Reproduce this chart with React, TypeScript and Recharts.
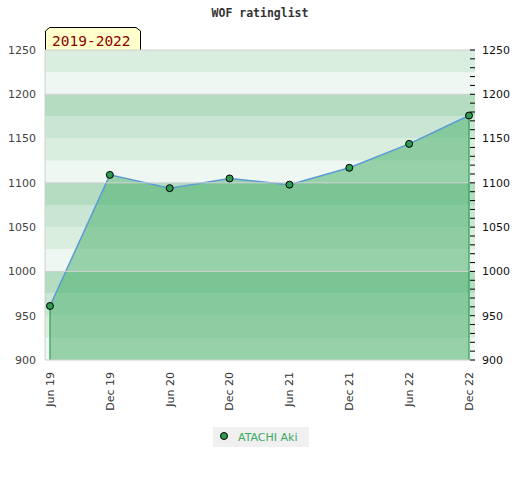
import {
  Area,
  ComposedChart,
  Customized,
  ReferenceArea,
  ReferenceLine,
  XAxis,
  YAxis,
} from "recharts";

const periods = ["Jun 19", "Dec 19", "Jun 20", "Dec 20", "Jun 21", "Dec 21", "Jun 22", "Dec 22"];
// months counted from Jun 2019
const monthIndex = [0, 6, 12, 18, 24, 30, 36, 42];
const ratings = [961, 1109, 1094, 1105, 1098, 1117, 1144, 1176];
const leftTicks = [900, 950, 1000, 1050, 1100, 1150, 1200, 1250];
const bandEdges = [900, 925, 950, 975, 1000, 1025, 1050, 1075, 1100, 1125, 1150, 1175, 1200, 1225, 1250];
const gridLines = [1000, 1100, 1200, 1250];
const minorTicks = Array.from({ length: 36 }, (_, i) => 900 + i * 10);

const playerName = "ATACHI Aki";
const rangeLabel = "2019-2022";
const chartTitle = "WOF ratinglist";

// colour cycle of the 25-point background bands, from the bottom up
const BAND_COLORS = ["#eef7f1", "#daeee0", "#c8e6d3", "#b3dcc1"];

const chartData = periods.map((label, i) => ({ m: monthIndex[i], label, rating: ratings[i] }));

const monthLabel = (m: number) => periods[monthIndex.indexOf(m)] ?? "";

const DateTick = (props: any) => {
  const { x, y, payload } = props;
  return (
    <text
      x={x}
      y={y}
      dy="0.35em"
      transform={`rotate(-90, ${x}, ${y})`}
      textAnchor="end"
      fontSize={11}
      fill="#333"
      fontFamily="DejaVu Sans"
    >
      {monthLabel(payload.value)}
    </text>
  );
};

const RightTick = (props: any) => {
  const { x, y, payload } = props;
  return (
    <g>
      <line x1={x - 5} x2={x} y1={y} y2={y} stroke="#000" strokeWidth={1} />
      {payload.value % 50 === 0 && (
        <text x={x + 7} y={y} dy="0.35em" fontSize={11} fill="#111" fontFamily="DejaVu Sans">
          {payload.value}
        </text>
      )}
    </g>
  );
};

const Decorations = () => (
  <g>
    <text
      x={260}
      y={17}
      textAnchor="middle"
      fontSize={11.5}
      fontWeight="bold"
      fontFamily="DejaVu Sans Mono"
      fill="#333"
    >
      {chartTitle}
    </text>
    <polygon
      points="45.5,50.5 45.5,31 49.5,27.5 136,27.5 140.5,31 140.5,50.5"
      fill="#ffffcc"
      stroke="#000"
      strokeWidth={1}
    />
    <text x={52} y={46} fontSize={14.5} fontFamily="DejaVu Sans Mono" fill="#8b0000">
      {rangeLabel}
    </text>
  </g>
);

export default function App() {
  const first = chartData[0];
  const last = chartData[chartData.length - 1];
  return (
    <div style={{ position: "relative", width: 520, height: 480 }}>
      <style>{`body{margin:0}`}</style>
      <ComposedChart
        width={520}
        height={480}
        data={chartData}
        margin={{ top: 50, right: 0, bottom: 0, left: 0 }}
      >
        <XAxis
          dataKey="m"
          type="number"
          domain={[-0.5, 42.6]}
          ticks={monthIndex}
          allowDataOverflow
          height={120}
          tickSize={0}
          tickMargin={12}
          tickLine={false}
          axisLine={{ stroke: "#d0d0d0" }}
          tick={<DateTick />}
          interval={0}
        />
        <YAxis
          yAxisId="left"
          width={45}
          domain={[900, 1250]}
          ticks={leftTicks}
          allowDataOverflow
          tickSize={0}
          tickMargin={9}
          tickLine={false}
          axisLine={{ stroke: "#d0d0d0" }}
          tick={{ fontSize: 11, fill: "#444", fontFamily: "DejaVu Sans" }}
          interval={0}
        />
        <YAxis
          yAxisId="right"
          orientation="right"
          width={45}
          domain={[900, 1250]}
          ticks={minorTicks}
          allowDataOverflow
          tickSize={0}
          tickMargin={0}
          tickLine={false}
          axisLine={false}
          tick={<RightTick />}
          interval={0}
        />
        {bandEdges.slice(0, -1).map((lo, i) => (
          <ReferenceArea
            key={lo}
            yAxisId="left"
            y1={lo}
            y2={bandEdges[i + 1]}
            fill={BAND_COLORS[i % BAND_COLORS.length]}
            fillOpacity={1}
            stroke="none"
          />
        ))}
        {gridLines.map((v) => (
          <ReferenceLine key={v} yAxisId="left" y={v} stroke="#d0d0d0" strokeWidth={1} />
        ))}
        <Area
          yAxisId="left"
          type="linear"
          dataKey="rating"
          baseValue={900}
          stroke="#5b9bd5"
          strokeWidth={1.5}
          fill="#4aaf6b"
          fillOpacity={0.53}
          dot={{ r: 3.5, fill: "#2f9a52", stroke: "#000", strokeWidth: 1, fillOpacity: 1 }}
          activeDot={false}
          isAnimationActive={false}
        />
        <ReferenceLine
          yAxisId="left"
          segment={[
            { x: first.m, y: 900 },
            { x: first.m, y: first.rating },
          ]}
          stroke="#2e9e50"
          strokeWidth={1.2}
        />
        <ReferenceLine
          yAxisId="left"
          segment={[
            { x: last.m, y: 900 },
            { x: last.m, y: last.rating },
          ]}
          stroke="#2e9e50"
          strokeWidth={1.2}
        />
        <Customized component={<Decorations />} />
      </ComposedChart>
      <div
        style={{
          position: "absolute",
          left: 213,
          top: 427,
          width: 96,
          height: 20,
          background: "#f0f0f0",
          display: "flex",
          alignItems: "center",
          fontFamily: "DejaVu Sans",
          fontSize: 11,
          color: "#3aa863",
        }}
      >
        <svg width={25} height={20}>
          <circle cx={11} cy={9} r={3.5} fill="#2f9a52" stroke="#000" strokeWidth={1} />
        </svg>
        <span>{playerName}</span>
      </div>
    </div>
  );
}
